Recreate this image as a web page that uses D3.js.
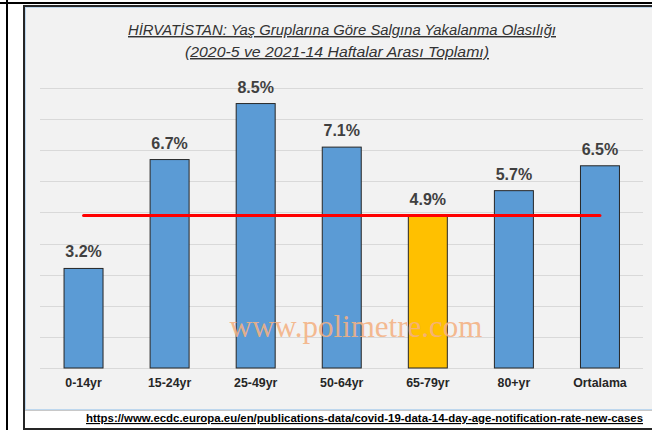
<!DOCTYPE html>
<html>
<head>
<meta charset="utf-8">
<script src="https://cdn.jsdelivr.net/npm/d3@7"></script>
<style>
  body { margin: 0; background: #fff; }
  svg { display: block; }
</style>
</head>
<body>
<div id="chart-area"></div>
<script>
// data
var categories = ["0-14yr", "15-24yr", "25-49yr", "50-64yr", "65-79yr", "80+yr", "Ortalama"];
var values = [3.2, 6.7, 8.5, 7.1, 4.9, 5.7, 6.5];
var highlight = "65-79yr";
var refValue = 4.9;
var yTicks = [0, 1, 2, 3, 4, 5, 6, 7, 8, 9];

var W = 652, H = 430;
var sans = "'Liberation Sans', Arial, sans-serif";

var svg = d3.select("#chart-area").append("svg")
    .attr("width", W)
    .attr("height", H);

// outer frame lines
svg.append("rect").attr("x", 0).attr("y", 2).attr("width", W).attr("height", 2).attr("fill", "#000");
svg.append("rect").attr("x", 6).attr("y", 0).attr("width", 2).attr("height", H).attr("fill", "#000");

// chart box
svg.append("rect")
    .attr("x", 24).attr("y", 6)
    .attr("width", W - 24 + 5).attr("height", 423)
    .attr("fill", "#fff")
    .attr("stroke", "#262626")
    .attr("stroke-width", 2);
svg.append("rect")
    .attr("x", 25.5).attr("y", 7.5)
    .attr("width", W).attr("height", 402)
    .attr("fill", "#f2f2f2")
    .attr("stroke", "#bdd7ee")
    .attr("stroke-width", 1);
svg.append("line")
    .attr("x1", 25).attr("x2", W)
    .attr("y1", 410.5).attr("y2", 410.5)
    .attr("stroke", "#c8c8c8");

var x = d3.scaleBand().domain(categories).range([40.5, 643]).paddingInner(0.547).paddingOuter(0.2735);
var y = d3.scaleLinear().domain([0, 9]).range([368, 88]);

// gridlines
svg.append("g").selectAll("line")
    .data(yTicks)
    .enter().append("line")
    .attr("x1", 40).attr("x2", 643)
    .attr("y1", function(d) { return Math.round(y(d)) + 0.5; })
    .attr("y2", function(d) { return Math.round(y(d)) + 0.5; })
    .attr("stroke", "#d9d9d9")
    .attr("stroke-width", 1.2);

// bars
svg.append("g").selectAll("rect")
    .data(values)
    .enter().append("rect")
    .attr("x", function(d, i) { return x(categories[i]); })
    .attr("width", x.bandwidth())
    .attr("y", function(d) { return y(d); })
    .attr("height", function(d) { return y(0) - y(d); })
    .attr("fill", function(d, i) { return categories[i] === highlight ? "#ffc000" : "#5b9bd5"; })
    .attr("stroke", "#262626")
    .attr("stroke-width", 1);

// value labels
svg.append("g").selectAll("text")
    .data(values)
    .enter().append("text")
    .attr("x", function(d, i) { return x(categories[i]) + x.bandwidth() / 2; })
    .attr("y", function(d) { return y(d) - 11; })
    .attr("text-anchor", "middle")
    .attr("font-family", sans)
    .attr("font-weight", "bold")
    .attr("font-size", "16px")
    .attr("fill", "#404040")
    .text(function(d) { return d.toFixed(1) + "%"; });

// x axis
var xAxis = d3.axisBottom(x).tickSize(0).tickPadding(10);
var xg = svg.append("g").attr("transform", "translate(0," + y(0) + ")").call(xAxis);
xg.select(".domain").remove();
xg.selectAll("text")
    .attr("font-family", sans)
    .attr("font-weight", "bold")
    .attr("font-size", "13px")
    .attr("fill", "#262626")
    .attr("textLength", function() { return this.getComputedTextLength() * 0.95; })
    .attr("lengthAdjust", "spacingAndGlyphs");

// watermark
svg.append("text")
    .attr("x", 356).attr("y", 337)
    .attr("text-anchor", "middle")
    .attr("font-family", "'Liberation Serif', 'Times New Roman', serif")
    .attr("font-size", "31px")
    .attr("fill", "#f4b183")
    .attr("fill-opacity", 0.9)
    .text("www.polimetre.com");

// reference line
svg.append("line")
    .attr("x1", x(categories[0]) + x.bandwidth() / 2)
    .attr("x2", x(categories[categories.length - 1]) + x.bandwidth() / 2)
    .attr("y1", y(refValue)).attr("y2", y(refValue))
    .attr("stroke", "#ff0000")
    .attr("stroke-width", 3)
    .attr("stroke-linecap", "round");

// title
var title = svg.append("g")
    .attr("font-family", sans)
    .attr("font-style", "italic")
    .attr("font-size", "14.5px")
    .attr("fill", "#333")
    .attr("text-anchor", "middle")
    .attr("text-decoration", "underline");
title.append("text").attr("x", 342).attr("y", 35)
    .attr("textLength", 428).attr("lengthAdjust", "spacingAndGlyphs")
    .text("HİRVATİSTAN: Yaş Gruplarına Göre Salgına Yakalanma Olasılığı");
title.append("text").attr("x", 337).attr("y", 57)
    .attr("textLength", 304).attr("lengthAdjust", "spacingAndGlyphs")
    .text("(2020-5 ve 2021-14 Haftalar Arası Toplamı)");

// source
svg.append("text")
    .attr("x", 86).attr("y", 422)
    .attr("font-family", sans)
    .attr("font-weight", "bold")
    .attr("font-size", "11.5px")
    .attr("fill", "#000")
    .attr("text-decoration", "underline")
    .attr("textLength", 557).attr("lengthAdjust", "spacingAndGlyphs")
    .text("https://www.ecdc.europa.eu/en/publications-data/covid-19-data-14-day-age-notification-rate-new-cases");
</script>
</body>
</html>
